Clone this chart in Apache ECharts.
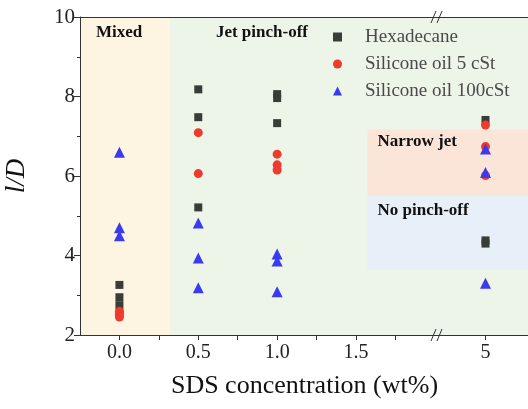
<!DOCTYPE html>
<html>
<head>
<meta charset="utf-8">
<script src="https://cdn.jsdelivr.net/npm/echarts@6/dist/echarts.min.js"></script>
<style>
  html, body { margin: 0; padding: 0; background: #fff; }
  #chart { width: 528px; height: 409px; }
</style>
</head>
<body>
<div id="chart"></div>
<script>
var seriesNames = ['Hexadecane', 'Silicone oil 5 cSt', 'Silicone oil 100cSt'];

// [SDS wt%, l/D]
var hexadecaneLow = [[0, 3.26], [0, 2.95], [0, 2.75], [0.5, 8.18], [0.5, 7.48], [0.5, 5.21], [1, 8.06], [1, 7.96], [1, 7.33]];
var hexadecaneHigh = [[5, 7.41], [5, 4.38], [5, 4.30]];
var silicone5Low = [[0, 2.6], [0, 2.55], [0, 2.5], [0, 2.45], [0.5, 7.09], [0.5, 6.06], [1, 6.55], [1, 6.28], [1, 6.15]];
var silicone5High = [[5, 7.28], [5, 6.74], [5, 6.01]];
var silicone100Low = [[0, 6.6], [0, 4.7], [0, 4.5], [0.5, 4.82], [0.5, 3.94], [0.5, 3.19], [1, 4.04], [1, 3.86], [1, 3.09]];
var silicone100High = [[5, 6.68], [5, 6.09], [5, 3.30]];

var xLabelsLow = [0, 0.5, 1.0, 1.5];
var xTicksLow = [0, 0.25, 0.5, 0.75, 1.0, 1.25, 1.5, 1.75];
var xLabelsHigh = [5];

// regime boundaries
var mixedRange = [-0.25, 0.32];
var pinchRangeLow = [0.32, 2.02];
var rightRangeLow = [1.573, 2.02];
var rightRangeHigh = [4.7, 5.3];
var narrowJetY = [5.49, 7.17];
var noPinchY = [3.64, 5.49];

var serifFont = '"Liberation Serif", "DejaVu Serif", serif';
var axisColor = '#333';
var regionLabel = { show: true, position: 'insideTopLeft', distance: 0, color: '#111', fontFamily: serifFont, fontWeight: 'bold', fontSize: 17 };

function area(x, y, color, name, offset) {
  var first = { xAxis: x[0], yAxis: y[0], itemStyle: { color: color, opacity: 1 } };
  if (name) {
    first.name = name;
    first.label = Object.assign({}, regionLabel, { offset: offset });
  } else {
    first.label = { show: false };
  }
  return [first, { xAxis: x[1], yAxis: y[1] }];
}

// plot frame drawn over the coloured regimes
function frame(lines) {
  return {
    silent: true,
    symbol: ['none', 'none'],
    label: { show: false },
    lineStyle: { color: axisColor, width: 1, type: 'solid', opacity: 1 },
    emphasis: { disabled: true },
    data: lines
  };
}

var chart = echarts.init(document.getElementById('chart'));

var option = {
  animation: false,
  textStyle: { fontFamily: serifFont },
  legend: {
    orient: 'vertical',
    left: 328,
    top: 22,
    itemWidth: 9,
    itemHeight: 9,
    itemGap: 7,
    data: seriesNames,
    textStyle: { fontFamily: serifFont, fontSize: 19, color: '#4a4a4a', lineHeight: 20, padding: [0, 0, 0, 18] }
  },
  grid: [
    { left: 80, top: 17, width: 358, bottom: 74, outerBoundsMode: 'none', containLabel: false },
    { left: 438, top: 17, right: -5, bottom: 74, outerBoundsMode: 'none', containLabel: false }
  ],
  xAxis: [
    {
      gridIndex: 0, type: 'value', min: -0.25, max: 2.02,
      name: 'SDS concentration (wt%)', nameLocation: 'middle', nameGap: 38,
      nameTextStyle: { fontFamily: serifFont, fontSize: 26, color: '#111', padding: [0, 0, 0, 91] },
      axisLine: { show: true, onZero: false, lineStyle: { color: axisColor } },
      axisTick: { show: true, inside: false, length: 5, customValues: xTicksLow, lineStyle: { color: axisColor } },
      axisLabel: { customValues: xLabelsLow, fontFamily: serifFont, fontSize: 20, color: '#222', margin: 8,
        formatter: function (v) { return v.toFixed(1); } },
      splitLine: { show: false }
    },
    {
      gridIndex: 1, type: 'value', min: rightRangeHigh[0], max: rightRangeHigh[1],
      axisLine: { show: true, onZero: false, lineStyle: { color: axisColor } },
      axisTick: { show: true, inside: false, length: 5, customValues: xLabelsHigh, lineStyle: { color: axisColor } },
      axisLabel: { customValues: xLabelsHigh, fontFamily: serifFont, fontSize: 20, color: '#222', margin: 8,
        formatter: function (v) { return String(v); } },
      splitLine: { show: false }
    }
  ],
  yAxis: [
    {
      gridIndex: 0, type: 'value', min: 2, max: 10, interval: 2,
      name: 'l/D', nameLocation: 'middle', nameGap: 50, nameRotate: 90,
      nameTextStyle: { fontFamily: serifFont, fontSize: 27, fontStyle: 'italic', color: '#111' },
      axisLine: { show: true, onZero: false, lineStyle: { color: axisColor } },
      axisTick: { show: true, inside: false, length: 6, lineStyle: { color: axisColor } },
      minorTick: { show: true, splitNumber: 2, length: 3, lineStyle: { color: axisColor } },
      axisLabel: { fontFamily: serifFont, fontSize: 21, color: '#222', margin: 5 },
      splitLine: { show: false }
    },
    {
      gridIndex: 1, type: 'value', min: 2, max: 10, show: false,
      axisLine: { show: false }, axisTick: { show: false }, axisLabel: { show: false }, splitLine: { show: false }
    }
  ],
  graphic: [],
  series: [
    {
      type: 'scatter', xAxisIndex: 0, yAxisIndex: 0, data: [], silent: true,
      markArea: {
        silent: true,
        data: [
          area(mixedRange, [2, 10], '#fdf5e2', 'Mixed', [16, 7]),
          area(pinchRangeLow, [2, 10], '#edf4e8', 'Jet pinch-off', [46, 7]),
          area(rightRangeLow, narrowJetY, '#fbe5d9', 'Narrow jet', [10, 4]),
          area(rightRangeLow, noPinchY, '#e7eff8', 'No pinch-off', [10, 6])
        ]
      }
    },
    {
      type: 'scatter', xAxisIndex: 1, yAxisIndex: 1, data: [], silent: true,
      markArea: {
        silent: true,
        data: [
          area(rightRangeHigh, [2, 10], '#edf4e8'),
          area(rightRangeHigh, narrowJetY, '#fbe5d9'),
          area(rightRangeHigh, noPinchY, '#e7eff8')
        ]
      }
    },
    {
      type: 'scatter', xAxisIndex: 0, yAxisIndex: 0, data: [], silent: true, z: 4,
      markLine: frame([{ yAxis: 2 }, { yAxis: 10 }, { xAxis: -0.25 }])
    },
    {
      type: 'scatter', xAxisIndex: 1, yAxisIndex: 1, data: [], silent: true, z: 4,
      markLine: frame([{ yAxis: 2 }, { yAxis: 10 }])
    },
    { name: seriesNames[0], type: 'scatter', xAxisIndex: 0, yAxisIndex: 0, symbol: 'rect', symbolSize: 8, z: 5,
      itemStyle: { color: '#383d38', opacity: 1 }, data: hexadecaneLow },
    { name: seriesNames[0], type: 'scatter', xAxisIndex: 1, yAxisIndex: 1, symbol: 'rect', symbolSize: 8, z: 5,
      itemStyle: { color: '#383d38', opacity: 1 }, data: hexadecaneHigh },
    { name: seriesNames[1], type: 'scatter', xAxisIndex: 0, yAxisIndex: 0, symbol: 'circle', symbolSize: 9, z: 5,
      itemStyle: { color: '#ef3a2e', opacity: 1 }, data: silicone5Low },
    { name: seriesNames[1], type: 'scatter', xAxisIndex: 1, yAxisIndex: 1, symbol: 'circle', symbolSize: 9, z: 5,
      itemStyle: { color: '#ef3a2e', opacity: 1 }, data: silicone5High },
    { name: seriesNames[2], type: 'scatter', xAxisIndex: 0, yAxisIndex: 0, symbol: 'triangle', symbolSize: 11, z: 5,
      itemStyle: { color: '#3a3aee', opacity: 1 }, data: silicone100Low },
    { name: seriesNames[2], type: 'scatter', xAxisIndex: 1, yAxisIndex: 1, symbol: 'triangle', symbolSize: 11, z: 5,
      itemStyle: { color: '#3a3aee', opacity: 1 }, data: silicone100High }
  ]
};

// axis break marks "//" at the top and bottom
[17, 335].forEach(function (y) {
  [0, 6].forEach(function (dx) {
    option.graphic.push({
      type: 'line', z: 100,
      shape: { x1: 431 + dx, y1: y + 6, x2: 436 + dx, y2: y - 6 },
      style: { stroke: axisColor, lineWidth: 1 }
    });
  });
});

chart.setOption(option);
window.addEventListener('resize', function () {
  chart.resize();
});
</script>
</body>
</html>
